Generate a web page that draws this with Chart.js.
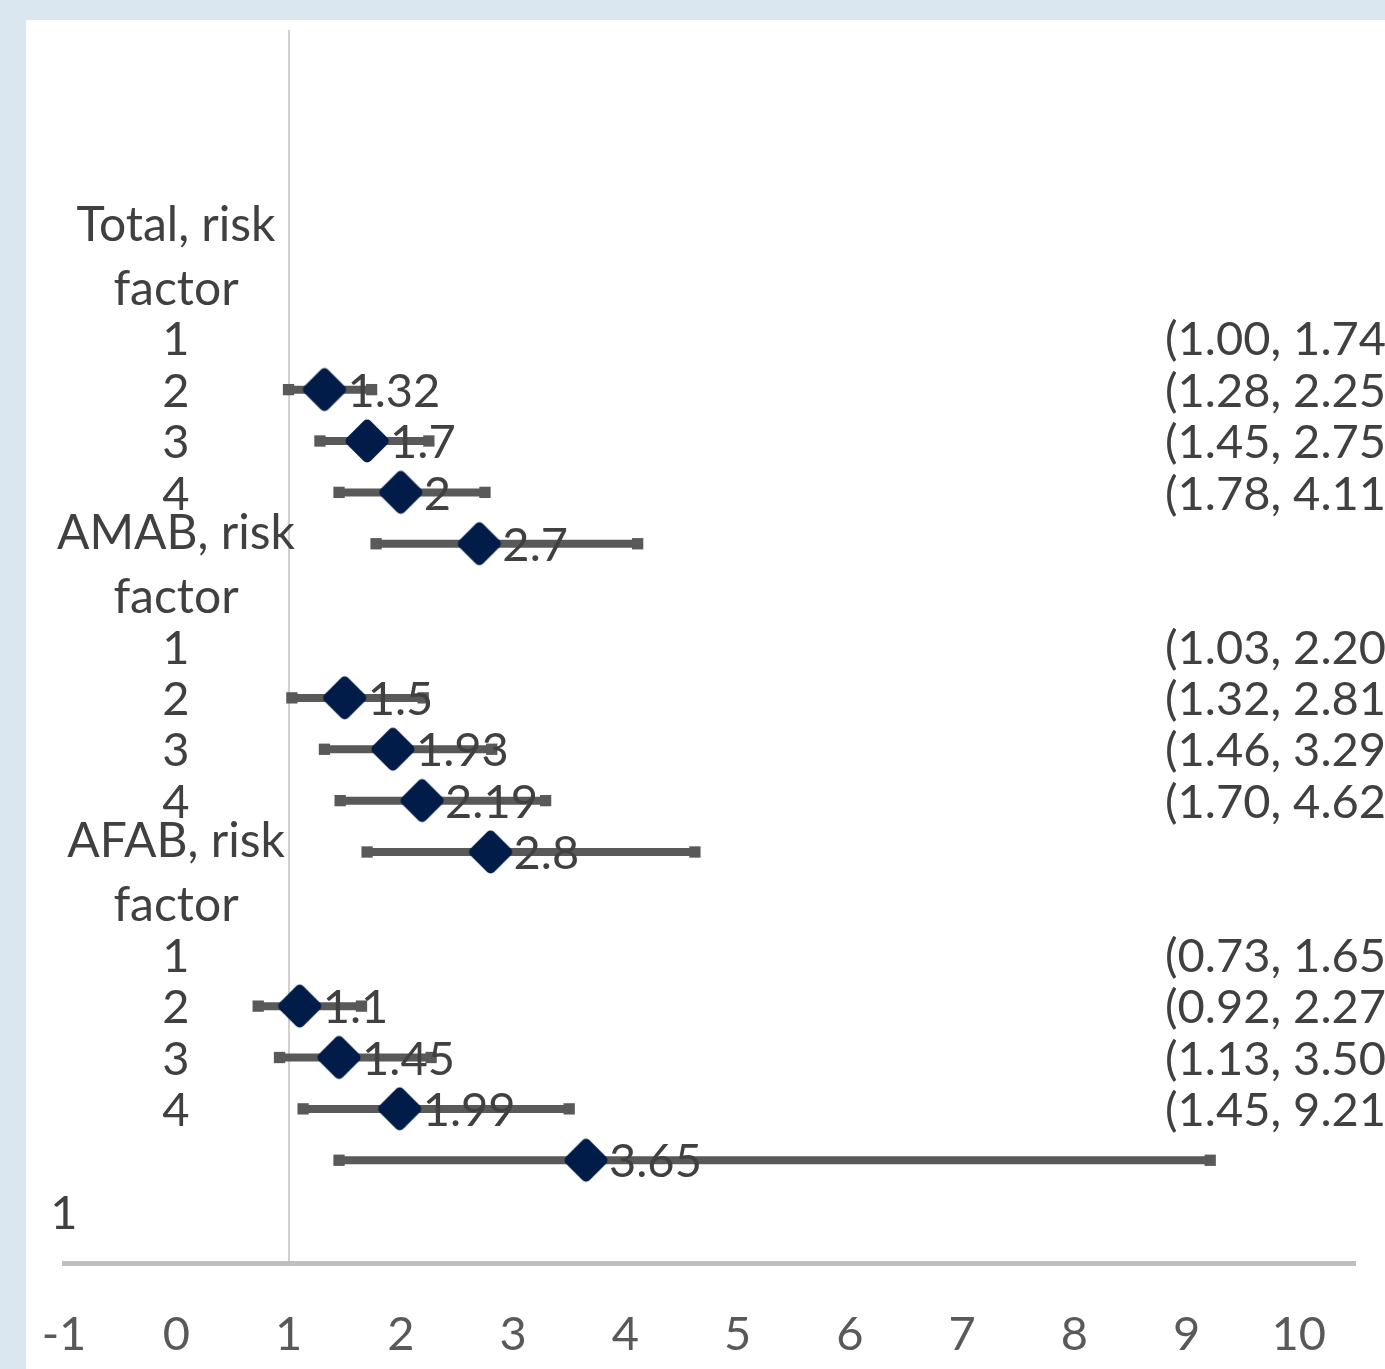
<!DOCTYPE html>
<html>
<head>
<meta charset="utf-8">
<script src="https://cdn.jsdelivr.net/npm/chart.js@4.4.1/dist/chart.umd.min.js"></script>
<style>
  html, body { margin: 0; padding: 0; background: #dae6f0; overflow: hidden; }
  #wrap { position: absolute; left: 0; top: 0; width: 1385px; height: 1369px; }
</style>
</head>
<body>
<div id="wrap"><canvas id="c" width="1385" height="1369"></canvas></div>
<script>
// ---- data ----
const groupLabels = [["Total, risk", "factor"], ["AMAB, risk", "factor"], ["AFAB, risk", "factor"]];
const groupRows = [4.42, 10.42, 16.42];
const levelLabels = ["1", "2", "3", "4", "1", "2", "3", "4", "1", "2", "3", "4"];
const levelRows = [6, 7, 8, 9, 12, 13, 14, 15, 18, 19, 20, 21];
const cornerLabel = "1";
const cornerRow = 23;

const estimates = [1.32, 1.7, 2, 2.7, 1.5, 1.93, 2.19, 2.8, 1.1, 1.45, 1.99, 3.65];
const lower     = [1.00, 1.28, 1.45, 1.78, 1.03, 1.32, 1.46, 1.70, 0.73, 0.92, 1.13, 1.45];
const upper     = [1.74, 2.25, 2.75, 4.11, 2.20, 2.81, 3.29, 4.62, 1.65, 2.27, 3.50, 9.21];
const pointRows = [7, 8, 9, 10, 13, 14, 15, 16, 19, 20, 21, 22];
const ciTextRows = [6, 7, 8, 9, 12, 13, 14, 15, 18, 19, 20, 21];

const xTicks = [-1, 0, 1, 2, 3, 4, 5, 6, 7, 8, 9, 10];
const xMin = -1, xMax = 10.5;
const refLineX = 1;
const yMin = 0, yMax = 24;

// ---- styling ----
const FONT = 'Lato';
const FS = 47;
const FS_GROUP = 48;
const TEXT = '#404040';
const NAVY = '#011c48';

// rounded diamond marker
function makeDiamond() {
  const size = 48, c = size / 2, R = 16.5, w = 10;
  const cv = document.createElement('canvas');
  cv.width = size; cv.height = size;
  const g = cv.getContext('2d');
  g.fillStyle = NAVY; g.strokeStyle = NAVY;
  g.lineWidth = w; g.lineJoin = 'round';
  g.beginPath();
  g.moveTo(c, c - R); g.lineTo(c + R, c); g.lineTo(c, c + R); g.lineTo(c - R, c);
  g.closePath();
  g.fill(); g.stroke();
  return cv;
}
const diamond = makeDiamond();

const datasets = [];
datasets.push({
  label: 'estimate',
  data: estimates.map((v, i) => ({ x: v, y: pointRows[i] })),
  pointStyle: diamond,
  pointRadius: 21,
  showLine: false,
  order: 0
});
lower.forEach((lo, i) => {
  datasets.push({
    label: 'ci' + i,
    data: [{ x: lo, y: pointRows[i] }, { x: upper[i], y: pointRows[i] }],
    showLine: true,
    borderColor: '#595959',
    borderWidth: 8,
    borderCapStyle: 'butt',
    pointStyle: 'rect',
    pointRadius: 8,
    pointHoverRadius: 8,
    pointBackgroundColor: '#595959',
    pointBorderWidth: 0,
    order: 1
  });
});

const decor = {
  id: 'decor',
  beforeDraw(chart) {
    const ctx = chart.ctx;
    ctx.save();
    ctx.fillStyle = '#dae6f0';
    ctx.fillRect(0, 0, chart.width, chart.height);
    ctx.fillStyle = '#ffffff';
    ctx.fillRect(26, 20, chart.width - 26, chart.height - 20);
    ctx.restore();
  },
  afterDatasetsDraw(chart) {
    const ctx = chart.ctx;
    const ys = chart.scales.y;
    ctx.save();
    ctx.fillStyle = TEXT;
    ctx.textBaseline = 'middle';
    // left category labels
    ctx.textAlign = 'center';
    const cx = 176;
    ctx.font = FS_GROUP + 'px ' + FONT;
    groupLabels.forEach((lines, g) => {
      const yc = ys.getPixelForValue(groupRows[g]);
      const lh = 64;
      lines.forEach((t, k) => {
        ctx.fillText(t, cx, yc + (k - (lines.length - 1) / 2) * lh);
      });
    });
    ctx.font = FS + 'px ' + FONT;
    levelLabels.forEach((t, i) => {
      ctx.fillText(t, cx, ys.getPixelForValue(levelRows[i]) + 2);
    });
    ctx.fillText(cornerLabel, chart.chartArea.left, ys.getPixelForValue(cornerRow) + 2);
    // data labels
    ctx.textAlign = 'left';
    const meta = chart.getDatasetMeta(0);
    meta.data.forEach((el, i) => {
      ctx.fillText(String(estimates[i]), el.x + 23, el.y + 2);
    });
    // CI text column
    ciTextRows.forEach((r, i) => {
      const t = '(' + lower[i].toFixed(2) + ', ' + upper[i].toFixed(2) + ')';
      ctx.fillText(t, 1165, ys.getPixelForValue(r) + 2);
    });
    ctx.restore();
  }
};

function build() {
  new Chart(document.getElementById('c'), {
    type: 'scatter',
    data: { datasets },
    options: {
      responsive: false,
      animation: false,
      events: [],
      layout: { padding: { left: 64, right: 30, top: 30, bottom: 0 } },
      plugins: { legend: { display: false }, tooltip: { enabled: false }, title: { display: false } },
      scales: {
        x: {
          type: 'linear',
          min: xMin, max: xMax,
          position: 'bottom',
          grid: {
            display: true,
            drawTicks: false,
            lineWidth: 2,
            color: (c) => (c.tick && c.tick.value === refLineX) ? '#d0d0d0' : 'rgba(0,0,0,0)'
          },
          border: { display: true, color: '#bfbfbf', width: 5 },
          ticks: {
            padding: 44,
            color: '#595959',
            font: { family: FONT, size: FS },
            maxRotation: 0,
            autoSkip: false
          },
          afterBuildTicks(s) { s.ticks = xTicks.map(v => ({ value: v })); },
          afterFit(s) { s.height = 106; s.paddingLeft = 0; s.paddingRight = 0; }
        },
        y: {
          type: 'linear',
          min: yMin, max: yMax,
          reverse: true,
          display: false
        }
      }
    },
    plugins: [decor]
  });
}

if (document.fonts && document.fonts.load) {
  Promise.race([
    document.fonts.load(FS + 'px ' + FONT),
    new Promise(r => setTimeout(r, 800))
  ]).then(build, build);
} else {
  build();
}
</script>
</body>
</html>
